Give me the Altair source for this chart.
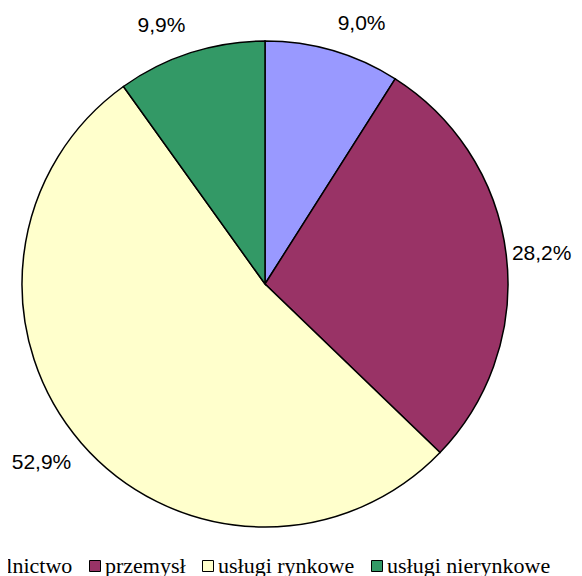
import altair as alt
import pandas as pd

categories = ["rolnictwo", "przemysł", "usługi rynkowe", "usługi nierynkowe"]
shares = [9.0, 28.2, 52.9, 9.9]
labels = ["9,0%", "28,2%", "52,9%", "9,9%"]
colors = ["#9999FF", "#993366", "#FFFFCC", "#339966"]

df = pd.DataFrame({
    "kategoria": categories,
    "udzial": shares,
    "etykieta": labels,
    "kolejnosc": list(range(len(categories))),
})

base = alt.Chart(df).encode(
    theta=alt.Theta("udzial:Q", stack=True, scale=alt.Scale(domain=[0, 100])),
    order=alt.Order("kolejnosc:Q"),
)

pie = base.mark_arc(radius=243, stroke="black", strokeWidth=1.5).encode(
    color=alt.Color(
        "kategoria:N",
        scale=alt.Scale(domain=categories, range=colors),
        legend=alt.Legend(
            orient="none",
            legendX=-41,
            legendY=547,
            direction="horizontal",
            symbolType="square",
            symbolSize=121,
            symbolStrokeColor="black",
            symbolStrokeWidth=1,
            labelFont="Liberation Serif",
            labelFontSize=22,
            labelColor="black",
            labelOffset=alt.ExprRef("-1"),
            columnPadding=11,
            title=None,
            labelLimit=0,
            padding=0,
        ),
    )
)

mid = "((datum.udzial_start + datum.udzial_end) / 2)"
text = base.mark_text(
    radius=alt.ExprRef(f"247 + 14 * abs(cos({mid} * PI / 50))"),
    font="Liberation Sans",
    fontSize=21,
    color="black",
    align=alt.ExprRef(f"{mid} < 50 ? 'left' : 'right'"),
    baseline=alt.ExprRef(f"abs({mid} - 25) < 4 || abs({mid} - 75) < 4 ? 'middle' : (({mid} < 25 || {mid} > 75) ? 'bottom' : 'top')"),
).encode(text="etykieta:N")

chart = (
    alt.layer(pie, text)
    .properties(
        width=514,
        height=552,
        autosize=alt.AutoSizeParams(type="none"),
        padding={"left": 0, "top": 0, "right": 52, "bottom": 16},
    )
    .configure_view(stroke=None)
)

chart.save("out.html", embed_options={"renderer": "svg", "actions": False})
